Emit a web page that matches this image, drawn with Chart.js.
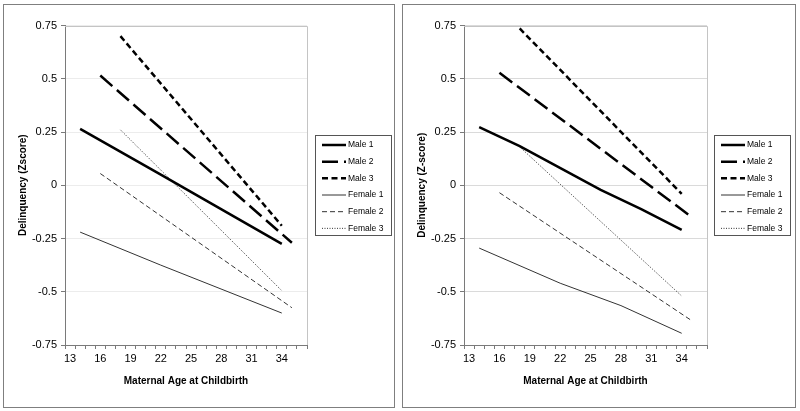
<!DOCTYPE html>
<html>
<head>
<meta charset="utf-8">
<script src="https://cdn.jsdelivr.net/npm/chart.js@4.4.1/dist/chart.umd.min.js"></script>
<style>
  html, body { margin: 0; padding: 0; background: #fff; width: 800px; height: 411px; overflow: hidden; }
  .panel { position: absolute; border: 1px solid #7f7f7f; background: #fff; }
  canvas { display: block; }
</style>
</head>
<body>
<div class="panel" style="left:3px; top:4px; width:390px; height:402px;"><canvas id="c1" width="390" height="402"></canvas></div>
<div class="panel" style="left:402px; top:4px; width:392px; height:402px;"><canvas id="c2" width="392" height="402"></canvas></div>
<script>
// ---------- DATA ----------
// x categories (maternal age); labels shown every 3 years
const ages = [13,14,15,16,17,18,19,20,21,22,23,24,25,26,27,28,29,30,31,32,33,34,35,36];
const tickLabels = ['13','16','19','22','25','28','31','34'];
const yTicks = [-0.75, -0.5, -0.25, 0, 0.25, 0.5, 0.75];
const seriesNames = ['Male 1','Male 2','Male 3','Female 1','Female 2','Female 3'];

// Left panel: [age, z-score]
const leftMale1   = [[14, 0.265], [22, 0.05], [34, -0.275]];
const leftMale2   = [[16, 0.515], [35, -0.27]];
const leftMale3   = [[18, 0.70], [34, -0.19]];
const leftFemale1 = [[14, -0.22], [22, -0.375], [34, -0.60]];
const leftFemale2 = [[16, 0.055], [35, -0.575]];
const leftFemale3 = [[18, 0.26], [34, -0.495]];

// Right panel: [age, z-score]
const rightMale1   = [[14, 0.273], [18, 0.184], [26, -0.022], [30, -0.112], [34, -0.21]];
const rightMale2   = [[16, 0.528], [35, -0.15]];
const rightMale3   = [[18, 0.736], [34, -0.04]];
const rightFemale1 = [[14, -0.295], [22, -0.46], [28, -0.565], [34, -0.695]];
const rightFemale2 = [[16, -0.035], [35, -0.636]];
const rightFemale3 = [[18, 0.18], [34, -0.52]];

// ---------- STYLE ----------
const FONT = "'Liberation Sans', Arial, sans-serif";
const axisColor = '#7a7a7a';
const frameColor = '#c4c4c4';
const lineColors = ['#000', '#000', '#000', '#333', '#333', '#333'];
const lineWidths = [2.5, 2.5, 2.5, 1, 1, 1];
const lineDashes = [[], [16, 6], [6, 3.5], [], [5, 3], [1, 1.5]];

const frameAndLegend = {
  id: 'frameAndLegend',
  beforeDatasetsDraw(chart) {
    const { ctx, chartArea: a } = chart;
    ctx.save();
    ctx.strokeStyle = frameColor;
    ctx.lineWidth = 1;
    ctx.setLineDash([]);
    ctx.beginPath();
    ctx.moveTo(a.left, Math.round(a.top) + 0.5);
    ctx.lineTo(Math.round(a.right) + 0.5, Math.round(a.top) + 0.5);
    ctx.lineTo(Math.round(a.right) + 0.5, a.bottom);
    ctx.stroke();
    ctx.restore();
  },
  afterDraw(chart) {
    const { ctx } = chart;
    const bx = 311.5, by = 130.5, bw = 76, bh = 100;
    ctx.save();
    ctx.fillStyle = '#fff';
    ctx.fillRect(bx, by, bw, bh);
    ctx.strokeStyle = '#555';
    ctx.lineWidth = 1;
    ctx.setLineDash([]);
    ctx.strokeRect(bx, by, bw, bh);
    ctx.font = '8.5px ' + FONT;
    ctx.textBaseline = 'middle';
    ctx.textAlign = 'left';
    chart.data.datasets.forEach((ds, i) => {
      const y = 140 + i * 16.67;
      ctx.beginPath();
      ctx.strokeStyle = ds.borderColor;
      ctx.lineWidth = ds.borderWidth;
      ctx.setLineDash(ds.borderDash);
      ctx.moveTo(318, y);
      ctx.lineTo(342, y);
      ctx.stroke();
      ctx.setLineDash([]);
      ctx.fillStyle = '#000';
      ctx.fillText(ds.label, 344, y);
    });
    ctx.restore();
  }
};

function makeChart(id, yTitle, seriesList, gridColor, rightPad) {
  const datasets = seriesList.map((pts, i) => ({
    label: seriesNames[i],
    data: pts.map(p => ({ x: String(p[0]), y: p[1] })),
    borderColor: lineColors[i],
    borderWidth: lineWidths[i],
    borderDash: lineDashes[i],
    pointRadius: 0,
    fill: false,
    tension: 0,
    spanGaps: true
  }));
  return new Chart(document.getElementById(id), {
    type: 'line',
    data: { labels: ages.map(String), datasets },
    options: {
      responsive: false,
      animation: false,
      devicePixelRatio: 1,
      layout: { padding: { left: 0, top: 20.5, right: rightPad, bottom: 17 } },
      plugins: { legend: { display: false }, tooltip: { enabled: false } },
      scales: {
        x: {
          type: 'category',
          offset: true,
          grid: { display: true, drawOnChartArea: false, drawTicks: true, tickLength: 4, offset: true, color: axisColor, tickColor: axisColor },
          border: { display: true, color: axisColor, width: 1 },
          ticks: {
            autoSkip: false, maxRotation: 0, minRotation: 0, padding: 3, color: '#000',
            font: { family: FONT, size: 11 },
            callback: function (v) { const l = this.getLabelForValue(v); return tickLabels.includes(l) ? l : ''; }
          },
          title: { display: true, text: 'Maternal Age at Childbirth', color: '#000', font: { family: FONT, size: 10, weight: 'bold' }, padding: { top: 0, bottom: 3 } },
          afterFit: s => { s.height = 45; }
        },
        y: {
          min: yTicks[0],
          max: yTicks[yTicks.length - 1],
          afterBuildTicks: s => { s.ticks = yTicks.map(v => ({ value: v })); },
          ticks: { padding: 4, color: '#000', font: { family: FONT, size: 11 }, callback: v => String(Math.round(v * 100) / 100) },
          grid: { color: gridColor, tickColor: axisColor, tickLength: 4, drawTicks: true },
          border: { display: true, color: axisColor, width: 1 },
          title: { display: true, text: yTitle, color: '#000', font: { family: FONT, size: 10, weight: 'bold' }, padding: { top: 13, bottom: 0 } },
          afterFit: s => { s.width = 61; }
        }
      }
    },
    plugins: [frameAndLegend]
  });
}

makeChart('c1', 'Delinquency (Zscore)',
  [leftMale1, leftMale2, leftMale3, leftFemale1, leftFemale2, leftFemale3], '#ececec', 87);
makeChart('c2', 'Delinquency (Z-score)',
  [rightMale1, rightMale2, rightMale3, rightFemale1, rightFemale2, rightFemale3], '#dadada', 88);
</script>
</body>
</html>
